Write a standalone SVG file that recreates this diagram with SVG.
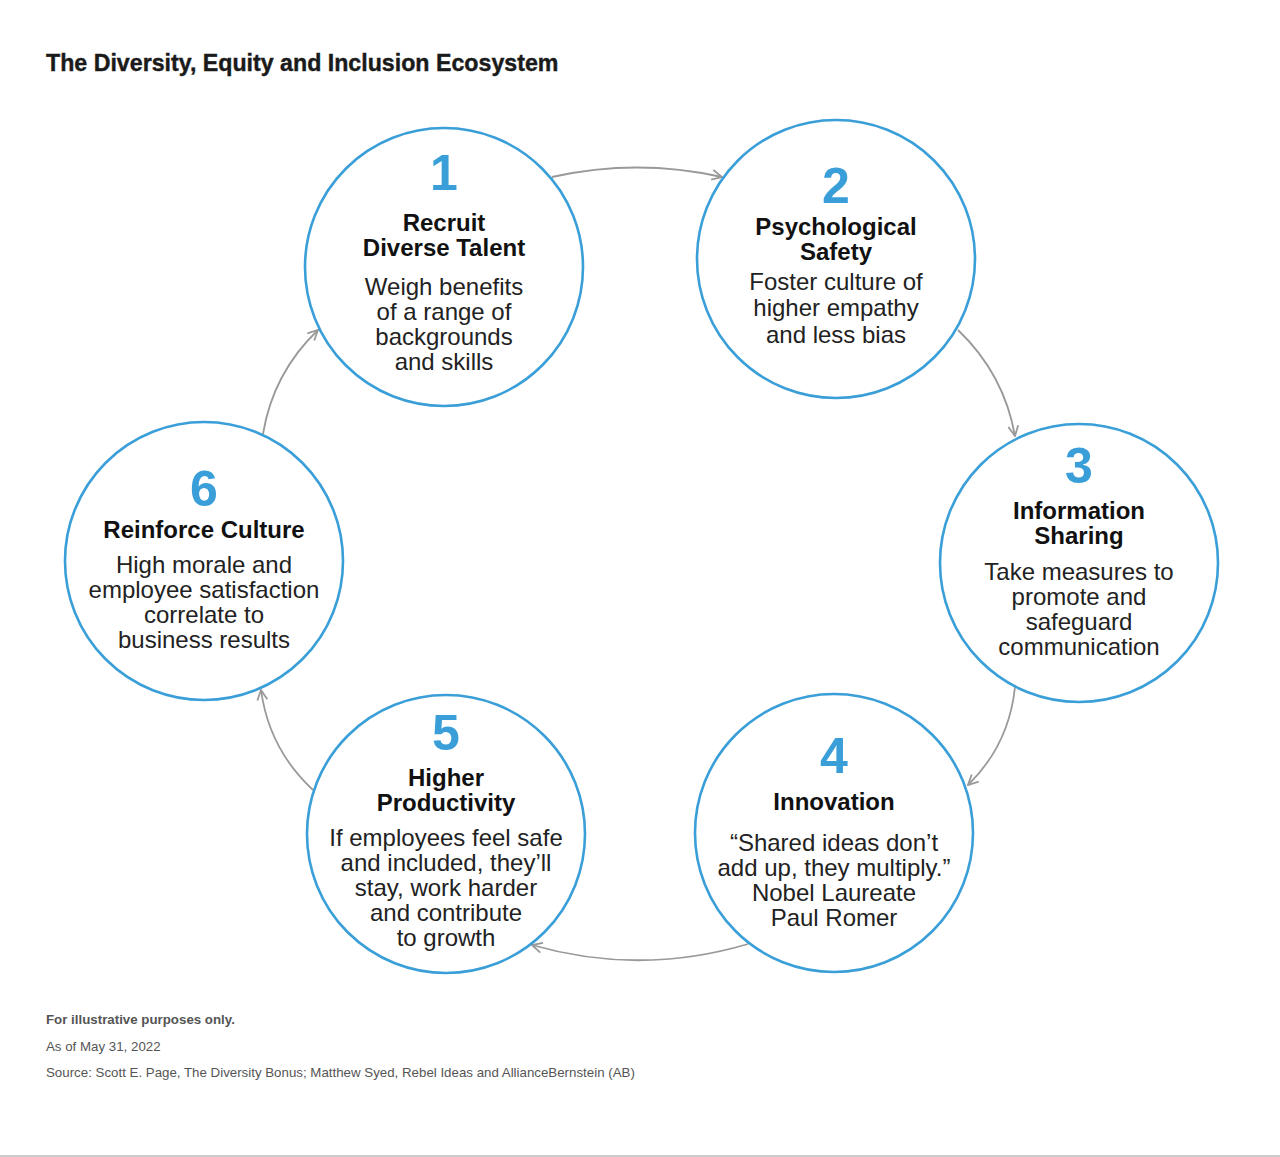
<svg xmlns="http://www.w3.org/2000/svg" width="1280" height="1157" viewBox="0 0 1280 1157">
<defs>
<marker id="arr" viewBox="0 0 12 12" refX="11" refY="6" markerWidth="12" markerHeight="12" markerUnits="userSpaceOnUse" orient="auto">
<path d="M1,1 L11,6 L1,11" fill="none" stroke="#999" stroke-width="1.8"/>
</marker>
<style>
.c{fill:#fff;stroke:#3a9fd8;stroke-width:2.6}
.n{font-family:"Liberation Sans",Arial,sans-serif;font-weight:bold;font-size:50px;fill:#3a9fd8;text-anchor:middle}
.h{font-family:"Liberation Sans",Arial,sans-serif;font-weight:bold;font-size:24px;fill:#111;text-anchor:middle}
.b{font-family:"Liberation Sans",Arial,sans-serif;font-size:24px;fill:#222;text-anchor:middle}
.a{fill:none;stroke:#999;stroke-width:1.8}
.f{font-family:"Liberation Sans",Arial,sans-serif;font-size:13.3px;fill:#555}
</style>
</defs>
<rect width="1280" height="1157" fill="#fff"/>
<text x="46" y="71" font-family="Liberation Sans,Arial,sans-serif" font-weight="bold" font-size="23.2" fill="#1a1a1a" stroke="#1a1a1a" stroke-width="0.4">The Diversity, Equity and Inclusion Ecosystem</text>

<g id="connectors">
<path class="a" d="M552,177 Q637,158 722,177" marker-end="url(#arr)"/>
<path class="a" d="M958,330 Q1004,374 1015,436" marker-end="url(#arr)"/>
<path class="a" d="M1015,687 Q1009,745 968,785" marker-end="url(#arr)"/>
<path class="a" d="M748,944 Q640,976 532,945" marker-end="url(#arr)"/>
<path class="a" d="M313,790 Q269,749 261,690" marker-end="url(#arr)"/>
<path class="a" d="M263,434 Q273,373 318,330" marker-end="url(#arr)"/>
</g>

<g id="node1">
<circle class="c" cx="444" cy="267" r="139"/>
<text class="n" x="444" y="190">1</text>
<text class="h" x="444" y="231">Recruit</text>
<text class="h" x="444" y="256">Diverse Talent</text>
<text class="b" x="444" y="295">Weigh benefits</text>
<text class="b" x="444" y="320">of a range of</text>
<text class="b" x="444" y="345">backgrounds</text>
<text class="b" x="444" y="370">and skills</text>
</g>

<g id="node2">
<circle class="c" cx="836" cy="259" r="139"/>
<text class="n" x="836" y="203">2</text>
<text class="h" x="836" y="235">Psychological</text>
<text class="h" x="836" y="260">Safety</text>
<text class="b" x="836" y="290">Foster culture of</text>
<text class="b" x="836" y="316">higher empathy</text>
<text class="b" x="836" y="343">and less bias</text>
</g>

<g id="node3">
<circle class="c" cx="1079" cy="563" r="139"/>
<text class="n" x="1079" y="483">3</text>
<text class="h" x="1079" y="519">Information</text>
<text class="h" x="1079" y="544">Sharing</text>
<text class="b" x="1079" y="580">Take measures to</text>
<text class="b" x="1079" y="605">promote and</text>
<text class="b" x="1079" y="630">safeguard</text>
<text class="b" x="1079" y="655">communication</text>
</g>

<g id="node4">
<circle class="c" cx="834" cy="833" r="139"/>
<text class="n" x="834" y="773">4</text>
<text class="h" x="834" y="810">Innovation</text>
<text class="b" x="834" y="851">“Shared ideas don’t</text>
<text class="b" x="834" y="876">add up, they multiply.”</text>
<text class="b" x="834" y="901">Nobel Laureate</text>
<text class="b" x="834" y="926">Paul Romer</text>
</g>

<g id="node5">
<circle class="c" cx="446" cy="834" r="139"/>
<text class="n" x="446" y="750">5</text>
<text class="h" x="446" y="786">Higher</text>
<text class="h" x="446" y="811">Productivity</text>
<text class="b" x="446" y="846">If employees feel safe</text>
<text class="b" x="446" y="871">and included, they’ll</text>
<text class="b" x="446" y="896">stay, work harder</text>
<text class="b" x="446" y="921">and contribute</text>
<text class="b" x="446" y="946">to growth</text>
</g>

<g id="node6">
<circle class="c" cx="204" cy="561" r="139"/>
<text class="n" x="204" y="506">6</text>
<text class="h" x="204" y="538">Reinforce Culture</text>
<text class="b" x="204" y="573">High morale and</text>
<text class="b" x="204" y="598">employee satisfaction</text>
<text class="b" x="204" y="623">correlate to</text>
<text class="b" x="204" y="648">business results</text>
</g>

<text class="f" x="46" y="1024" font-weight="bold" font-size="14">For illustrative purposes only.</text>
<text class="f" x="46" y="1051">As of May 31, 2022</text>
<text class="f" x="46" y="1077">Source: Scott E. Page, The Diversity Bonus; Matthew Syed, Rebel Ideas and AllianceBernstein (AB)</text>
<line x1="0" y1="1156" x2="1280" y2="1156" stroke="#ccc" stroke-width="2"/>
</svg>
